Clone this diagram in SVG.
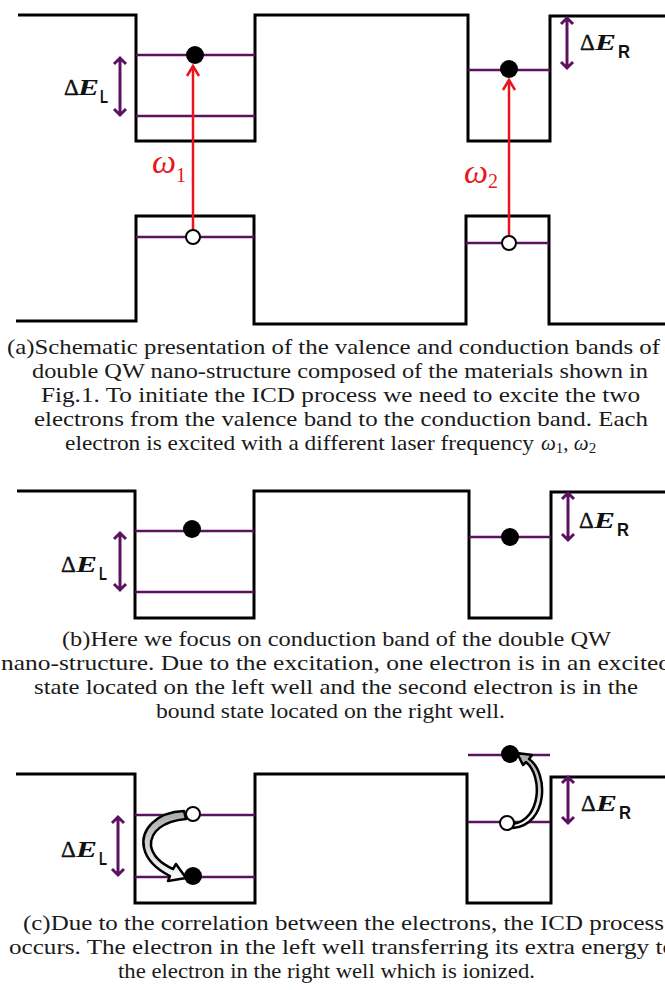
<svg xmlns="http://www.w3.org/2000/svg" width="665" height="990" viewBox="0 0 665 990">
<defs>
<linearGradient id="gr" x1="0" y1="0" x2="0" y2="1"><stop offset="0" stop-color="#a8a8a8"/><stop offset="1" stop-color="#ffffff"/></linearGradient>
</defs>
<style>
.band{fill:none;stroke:#000;stroke-width:3;stroke-linejoin:miter}
.lvl{stroke:#5d1261;stroke-width:2.5;fill:none}
.de{fill:none;stroke:#5d1261;stroke-width:3}
.las{fill:none;stroke:#e8161c;stroke-width:2.5}
.el{fill:#000}
.hole{fill:#fff;stroke:#000;stroke-width:2}
.cap{font-family:"Liberation Serif",serif;font-size:21px;fill:#1a1a1a}
.d{font-family:"Liberation Serif",serif;font-size:23px;fill:#111;stroke:#111;stroke-width:0.4}
.E{font-family:"Liberation Serif",serif;font-size:24px;font-weight:bold;font-style:italic;fill:#111}
.sub{font-family:"Liberation Sans",sans-serif;font-size:19px;font-weight:bold;fill:#111}
.om{font-family:"Liberation Serif",serif;font-style:italic;font-size:34px;fill:#e8161c}
.oms{font-family:"Liberation Serif",serif;font-size:20px;fill:#e8161c}
.ca{stroke:#000;stroke-width:2.5;fill:url(#gr);stroke-linejoin:round}
</style>
<rect width="665" height="990" fill="#fff"/>

<!-- Panel (a) -->
<g id="panel-a">
  <g id="a-conduction-band"><path class="band" d="M18,15 H136 V141 H255 V15 H468 V141 H550 V16 H665"/></g>
  <g id="a-valence-band"><path class="band" d="M16,321 H136 V216 H254 V324 H466 V216 H549 V324 H665"/></g>
  <g id="a-levels">
    <path class="lvl" d="M136,55 H255 M136,116 H255 M468,70 H550 M136,237 H254 M466,243 H549"/>
  </g>
  <g id="a-dEL">
    <text class="d" x="64" y="95">Δ</text>
    <text class="E" x="78" y="95" textLength="21" lengthAdjust="spacingAndGlyphs">E</text>
    <text class="sub" x="100" y="103" textLength="8" lengthAdjust="spacingAndGlyphs">L</text>
  </g>
  <g id="a-dER">
    <text class="d" x="580" y="50">Δ</text>
    <text class="E" x="595" y="50" textLength="21" lengthAdjust="spacingAndGlyphs">E</text>
    <text class="sub" x="618" y="58" textLength="12" lengthAdjust="spacingAndGlyphs">R</text>
  </g>
  <g id="a-omega1"><text class="om" x="152" y="173">ω</text><text class="oms" x="176" y="182">1</text></g>
  <g id="a-omega2"><text class="om" x="464" y="183">ω</text><text class="oms" x="488" y="188">2</text></g>
</g>

<!-- Panel (b) -->
<g id="panel-b">
  <g id="b-conduction-band"><path class="band" d="M17,491 H135 V618 H254 V491 H469 V618 H551 V492 H665"/></g>
  <g id="b-levels"><path class="lvl" d="M135,531 H254 M135,592 H254 M469,537 H551"/></g>
  <g id="b-dEL">
    <text class="d" x="61" y="572">Δ</text>
    <text class="E" x="76" y="572" textLength="21" lengthAdjust="spacingAndGlyphs">E</text>
    <text class="sub" x="99" y="580" textLength="8" lengthAdjust="spacingAndGlyphs">L</text>
  </g>
  <g id="b-dER">
    <text class="d" x="579" y="528">Δ</text>
    <text class="E" x="594" y="528" textLength="21" lengthAdjust="spacingAndGlyphs">E</text>
    <text class="sub" x="617" y="536" textLength="12" lengthAdjust="spacingAndGlyphs">R</text>
  </g>
</g>

<!-- Panel (c) -->
<g id="panel-c">
  <g id="c-conduction-band"><path class="band" d="M16,774 H135 V903 H255 V774 H467 V903 H551 V777 H665"/></g>
  <g id="c-levels"><path class="lvl" d="M135,815 H255 M135,877 H255 M468,755 H550 M468,822 H550"/></g>
  <g id="c-dEL">
    <text class="d" x="61" y="857">Δ</text>
    <text class="E" x="76" y="857" textLength="21" lengthAdjust="spacingAndGlyphs">E</text>
    <text class="sub" x="99" y="865" textLength="8" lengthAdjust="spacingAndGlyphs">L</text>
  </g>
  <g id="c-dER">
    <text class="d" x="581" y="811">Δ</text>
    <text class="E" x="596" y="811" textLength="21" lengthAdjust="spacingAndGlyphs">E</text>
    <text class="sub" x="619" y="819" textLength="12" lengthAdjust="spacingAndGlyphs">R</text>
  </g>
</g>

<!-- Connectors -->
<g id="connectors">
  <path class="de" d="M120,58 V115 M114,64 L120,58 L126,64 M114,109 L120,115 L126,109"/>
  <path class="de" d="M567,18 V68 M561,24 L567,18 L573,24 M561,62 L567,68 L573,62"/>
  <path class="las" d="M193,230 V66 M187,76 L193,66 L199,76"/>
  <path class="las" d="M509,236 V80 M503,90 L509,80 L515,90"/>
  <path class="de" d="M120,533 V590 M114,539 L120,533 L126,539 M114,584 L120,590 L126,584"/>
  <path class="de" d="M568,493 V540 M562,499 L568,493 L574,499 M562,534 L568,540 L574,534"/>
  <path class="de" d="M118,817 V875 M112,823 L118,817 L124,823 M112,869 L118,875 L124,869"/>
  <path class="de" d="M568,777 V823 M562,783 L568,777 L574,783 M562,817 L568,823 L574,817"/>
  <path class="ca" d="M184,811 C156,812 140,830 144,848 C147,861 158,870 170,876 L168,881 L186,878 L176,864 L173,869 C162,864 153,857 151,846 C150,831 164,821 186,819 Z"/>
  <path class="ca" d="M513,828 C548,825 549,773 529,759 L532,755 L517,753 L523,765 L526,762 C543,776 541,820 513,824 Z"/>
</g>

<!-- Electrons and holes -->
<g id="particles">
  <circle class="el" cx="195" cy="55" r="9"/>
  <circle class="el" cx="509" cy="69" r="9"/>
  <circle class="hole" cx="193" cy="237" r="7"/>
  <circle class="hole" cx="509" cy="243" r="7"/>
  <circle class="el" cx="192" cy="529" r="9"/>
  <circle class="el" cx="510" cy="537" r="9"/>
  <circle class="hole" cx="193" cy="814" r="7"/>
  <circle class="el" cx="193" cy="876" r="9"/>
  <circle class="el" cx="510" cy="754" r="9"/>
  <circle class="hole" cx="507" cy="823" r="7"/>
</g>

<!-- Captions -->
<g id="caption-a">
  <text class="cap" x="7" y="354" textLength="653" lengthAdjust="spacingAndGlyphs">(a)Schematic presentation of the valence and conduction bands of</text>
  <text class="cap" x="32" y="378" textLength="616" lengthAdjust="spacingAndGlyphs">double QW nano-structure composed of the materials shown in</text>
  <text class="cap" x="41" y="402" textLength="599" lengthAdjust="spacingAndGlyphs">Fig.1. To initiate the ICD process we need to excite the two</text>
  <text class="cap" x="34" y="426" textLength="614" lengthAdjust="spacingAndGlyphs">electrons from the valence band to the conduction band. Each</text>
  <text class="cap" x="65" y="450" textLength="469" lengthAdjust="spacingAndGlyphs">electron is excited with a different laser frequency</text>
  <text class="cap" y="450"><tspan x="541" font-style="italic">ω</tspan><tspan font-size="15" dy="3">1</tspan><tspan dy="-3">, </tspan><tspan font-style="italic">ω</tspan><tspan font-size="15" dy="3">2</tspan></text>
</g>
<g id="caption-b">
  <text class="cap" x="62" y="646" textLength="549" lengthAdjust="spacingAndGlyphs">(b)Here we focus on conduction band of the double QW</text>
  <text class="cap" x="1" y="670" textLength="670" lengthAdjust="spacingAndGlyphs">nano-structure. Due to the excitation, one electron is in an excited</text>
  <text class="cap" x="34" y="694" textLength="604" lengthAdjust="spacingAndGlyphs">state located on the left well and the second electron is in the</text>
  <text class="cap" x="156" y="718" textLength="349" lengthAdjust="spacingAndGlyphs">bound state located on the right well.</text>
</g>
<g id="caption-c">
  <text class="cap" x="23" y="930" textLength="641" lengthAdjust="spacingAndGlyphs">(c)Due to the correlation between the electrons, the ICD process</text>
  <text class="cap" x="9" y="954" textLength="666" lengthAdjust="spacingAndGlyphs">occurs. The electron in the left well transferring its extra energy to</text>
  <text class="cap" x="118" y="978" textLength="417" lengthAdjust="spacingAndGlyphs">the electron in the right well which is ionized.</text>
</g>
</svg>
